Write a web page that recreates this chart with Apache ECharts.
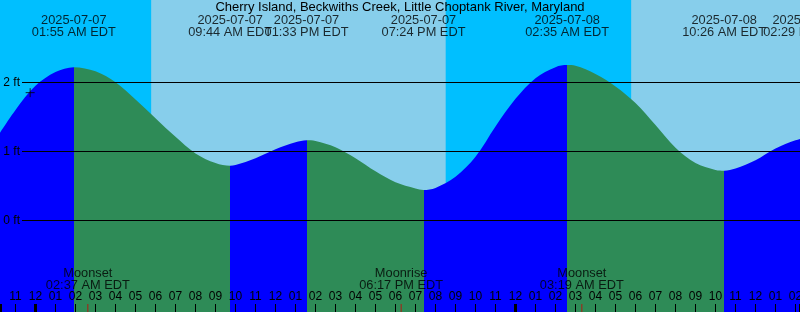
<!DOCTYPE html>
<html>
<head>
<meta charset="utf-8">
<script src="https://cdn.jsdelivr.net/npm/echarts@6/dist/echarts.min.js"></script>
<style>html,body{margin:0;padding:0;background:#fff}#c{width:800px;height:312px}</style>
</head>
<body>
<div id="c"></div>
<script>
// ---- data (times on the EDT local clock) ----
const title = 'Cherry Island, Beckwiths Creek, Little Choptank River, Maryland';
const viewStart = '2025-07-06 22:13:30';
const viewEnd = '2025-07-08 14:13:30';
const tideTimes = [
  '2025-07-06 22:00','2025-07-06 23:00','2025-07-07 00:00','2025-07-07 01:00','2025-07-07 01:55',
  '2025-07-07 03:00','2025-07-07 04:00','2025-07-07 05:00','2025-07-07 06:00','2025-07-07 07:00',
  '2025-07-07 08:00','2025-07-07 09:00','2025-07-07 09:44','2025-07-07 10:00','2025-07-07 11:00',
  '2025-07-07 12:00','2025-07-07 13:00','2025-07-07 13:33','2025-07-07 14:00','2025-07-07 15:00',
  '2025-07-07 16:00','2025-07-07 17:00','2025-07-07 18:00','2025-07-07 19:00','2025-07-07 19:24',
  '2025-07-07 20:00','2025-07-07 21:00','2025-07-07 22:00','2025-07-07 23:00','2025-07-08 00:00',
  '2025-07-08 01:00','2025-07-08 02:00','2025-07-08 02:35','2025-07-08 03:00','2025-07-08 04:00',
  '2025-07-08 05:00','2025-07-08 06:00','2025-07-08 07:00','2025-07-08 08:00','2025-07-08 09:00',
  '2025-07-08 10:00','2025-07-08 10:26','2025-07-08 11:00','2025-07-08 12:00','2025-07-08 13:00',
  '2025-07-08 14:00','2025-07-08 14:29','2025-07-08 15:00'
];
const tideFeet = [
  1.17, 1.60, 1.95, 2.15, 2.22,
  2.16, 2.00, 1.75, 1.48, 1.21,
  0.97, 0.83, 0.79, 0.80, 0.90,
  1.03, 1.13, 1.16, 1.15, 1.06,
  0.90, 0.71, 0.55, 0.46, 0.44,
  0.47, 0.63, 0.92, 1.36, 1.76,
  2.06, 2.22, 2.25, 2.24, 2.12,
  1.94, 1.70, 1.38, 1.05, 0.83,
  0.73, 0.72, 0.75, 0.87, 1.04,
  1.16, 1.19, 1.18
];
const extremeTimes = ['2025-07-07 01:55','2025-07-07 09:44','2025-07-07 13:33','2025-07-07 19:24',
                      '2025-07-08 02:35','2025-07-08 10:26','2025-07-08 14:29'];
const extremeKinds = ['high','low','high','low','high','low','high'];
const sunTimes = ['2025-07-07 05:47','2025-07-07 20:31','2025-07-08 05:47'];
const sunKinds = ['rise','set','rise'];
const moonTimes = ['2025-07-07 02:37','2025-07-07 18:17','2025-07-08 03:19'];
const moonNames = ['Moonset','Moonrise','Moonset'];
const nowTime = '2025-07-06 23:44';
const nowFeet = 1.85;
const heightTicks = [0, 1, 2];
const yMin = -1.329, yMax = 3.193;

// ---- helpers ----
const ts = s => Date.parse(s.replace(' ', 'T') + 'Z');
const pad = n => String(n).padStart(2, '0');
function fmtDate(s) { return s.slice(0, 10); }
function fmtTime(s) {
  const d = new Date(ts(s));
  const h = d.getUTCHours();
  return pad(h % 12 || 12) + ':' + pad(d.getUTCMinutes()) + (h < 12 ? ' AM' : ' PM') + ' EDT';
}
const FONT = 'Liberation Sans';
const NIGHT = '#00BFFF', DAY = '#87CEEB', RISE = '#0000FF', FALL = '#2E8B57';

// water colour pieces: rising (blue) until a high, falling (green) until a low
const pieces = [];
let prev = null;
extremeTimes.forEach((t, i) => {
  const p = { color: extremeKinds[i] === 'high' ? RISE : FALL, lt: ts(t) };
  if (prev !== null) p.gte = prev;
  pieces.push(p);
  prev = ts(t);
});
pieces.push({ gte: prev, color: extremeKinds[extremeKinds.length - 1] === 'high' ? FALL : RISE });

// day/night bands
const bandEdges = [viewStart].concat(sunTimes, [viewEnd]);
const bands = [];
for (let i = 0; i < bandEdges.length - 1; i++) {
  const isDay = i > 0 && sunKinds[i - 1] === 'rise';
  bands.push([{ xAxis: ts(bandEdges[i]), itemStyle: { color: isDay ? DAY : NIGHT } }, { xAxis: ts(bandEdges[i + 1]) }]);
}

const chart = echarts.init(document.getElementById('c'), null, { renderer: 'canvas' });
chart.setOption({
  useUTC: true,
  animation: false,
  backgroundColor: NIGHT,
  textStyle: { fontFamily: FONT },
  title: {
    text: title, left: 'center', top: 1.5, padding: 0,
    textStyle: { fontFamily: FONT, fontSize: 13, fontWeight: 'normal', color: '#000', lineHeight: 12 }
  },
  grid: [
    { left: 0, right: 0, top: 0, bottom: 0, containLabel: false, outerBoundsMode: 'none' },
    { left: 22, right: 0, top: 13.3, bottom: 22.7, containLabel: false, outerBoundsMode: 'none' }
  ],
  xAxis: [
    {
      type: 'time', gridIndex: 0, position: 'bottom', min: ts(viewStart), max: ts(viewEnd),
      minInterval: 3600000, maxInterval: 3600000,
      axisLine: { show: false, onZero: false }, splitLine: { show: false },
      axisTick: { show: true, inside: true, length: 8, lineStyle: { color: '#000', width: 1 } },
      axisLabel: {
        show: true, inside: true, margin: 9, fontFamily: FONT, fontSize: 12, color: '#000',
        hideOverlap: false,
        formatter: v => pad(new Date(v).getUTCHours() % 12 || 12)
      },
      z: 6
    },
    {
      type: 'time', gridIndex: 0, position: 'bottom', min: ts(viewStart), max: ts(viewEnd),
      minInterval: 86400000, maxInterval: 86400000,
      axisLine: { show: false, onZero: false }, splitLine: { show: false }, axisLabel: { show: false },
      axisTick: { show: true, inside: true, length: 8, lineStyle: { color: '#000', width: 3 } },
      z: 6
    },
    { type: 'value', gridIndex: 1, min: 0, max: 1, show: false, axisLine: { onZero: false } }
  ],
  yAxis: [
    { type: 'value', gridIndex: 0, min: yMin, max: yMax, show: false, axisLine: { onZero: false } },
    {
      type: 'value', gridIndex: 1, min: -1, max: 3, interval: 1, z: 6,
      axisLine: { show: false, onZero: false }, axisTick: { show: false },
      splitLine: { show: true, showMinLine: false, showMaxLine: false, lineStyle: { color: '#000', width: 1 } },
      axisLabel: {
        show: true, margin: 2, fontFamily: FONT, fontSize: 12, color: '#000',
        formatter: v => (heightTicks.indexOf(v) >= 0 ? v + ' ft' : '')
      }
    }
  ],
  visualMap: {
    type: 'piecewise', show: false, seriesIndex: 0, dimension: 0, pieces: pieces
  },
  series: [
    {
      type: 'line', xAxisIndex: 0, yAxisIndex: 0, z: 2,
      data: tideTimes.map((t, i) => [ts(t), tideFeet[i]]),
      smooth: 0.33, showSymbol: false, symbol: 'none',
      lineStyle: { width: 0 },
      areaStyle: { opacity: 1, origin: 'start' }
    },
    {
      type: 'scatter', xAxisIndex: 0, yAxisIndex: 0, z: 5, clip: false,
      symbol: 'circle', symbolSize: 1, itemStyle: { color: 'rgba(0,0,0,0)' },
      data: extremeTimes.map(t => ({ value: [ts(t), yMax], date: fmtDate(t), time: fmtTime(t) })),
      label: {
        show: true, position: 'bottom', distance: 13.5, fontFamily: FONT, fontSize: 12.8, lineHeight: 12,
        color: '#000', align: 'center',
        formatter: p => p.data.date + '\n' + p.data.time
      },
      markArea: { silent: true, data: bands }
    },
    {
      type: 'scatter', xAxisIndex: 0, yAxisIndex: 0, z: 5, clip: false,
      symbol: 'rect', symbolSize: [1, 8], symbolOffset: [0, -4], itemStyle: { color: '#d00000' },
      data: moonTimes.map((t, i) => ({ value: [ts(t), yMin], nm: moonNames[i], time: fmtTime(t) })),
      label: {
        show: true, position: 'top', distance: 12.3, fontFamily: FONT, fontSize: 12.8, lineHeight: 12,
        color: '#000', align: 'center',
        formatter: p => p.data.nm + '\n' + p.data.time
      }
    },
    {
      type: 'scatter', xAxisIndex: 0, yAxisIndex: 0, z: 5,
      symbol: 'path://M4,0V8M0,4H8', symbolSize: 9,
      itemStyle: { color: 'rgba(0,0,0,0)', borderColor: '#000', borderWidth: 1 },
      data: [[ts(nowTime), nowFeet]]
    }
  ]
});
</script>
</body>
</html>
